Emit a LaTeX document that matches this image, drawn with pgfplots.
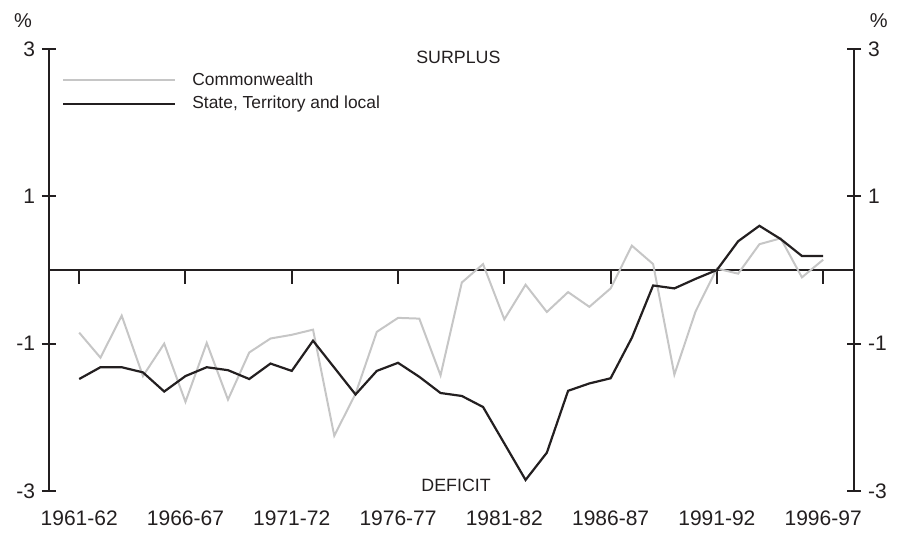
\documentclass[border=0pt]{standalone}
\usepackage{fontspec}
\setmainfont{Liberation Sans}
\usepackage{pgfplots}
\pgfplotsset{compat=1.18}
\definecolor{ink}{HTML}{231F20}
\definecolor{lgray}{HTML}{C6C6C6}
\begin{document}
\begin{tikzpicture}
\pgfplotsset{
  common/.style={
    scale only axis, width=402.5pt, height=221pt,
    xmin=-1.42, xmax=36.45, ymin=-3, ymax=3,
    ytick={-3,-1,1,3}, yticklabels={-3,-1,1,3},
    xtick={0,5,10,15,20,25,30,35},
    tick align=outside, major tick length=7pt,
    tick style={line width=1pt, color=ink},
    ticklabel style={font=\fontsize{10.5}{12}\selectfont, color=ink},
    clip=false,
  }
}
\begin{axis}[common,
  axis x line=middle, axis y line=left,
  axis line style={-},
  y axis line style={line width=1pt, color=ink},
  x axis line style={line width=0.7pt, color=ink},
  xticklabels={},
  xtick style={line width=1pt, color=ink, yshift=-3.3pt},
  legend style={at={(axis cs:-0.80,2.735)}, anchor=north west, draw=none, fill=none,
    inner sep=0pt, outer sep=0pt, column sep=6pt,
    font=\fontsize{8.7}{10}\selectfont, text=ink},
  legend cell align=left,
  legend image code/.code={\draw[#1] (0pt,0pt) -- (56pt,0pt);},
]
\addplot[lgray, line width=1pt] coordinates {
(0,-0.85) (1,-1.19) (2,-0.62) (3,-1.44) (4,-1.00) (5,-1.79) (6,-0.99) (7,-1.76)
(8,-1.12) (9,-0.93) (10,-0.88) (11,-0.81) (12,-2.25) (13,-1.68) (14,-0.84) (15,-0.65)
(16,-0.66) (17,-1.43) (18,-0.17) (19,0.08) (20,-0.67) (21,-0.20) (22,-0.57) (23,-0.30)
(24,-0.50) (25,-0.25) (26,0.33) (27,0.08) (28,-1.42) (29,-0.56) (30,0.02) (31,-0.05)
(32,0.35) (33,0.43) (34,-0.10) (35,0.14)};
\addlegendentry{Commonwealth}
\addplot[ink, line width=1.1pt] coordinates {
(0,-1.48) (1,-1.32) (2,-1.32) (3,-1.39) (4,-1.65) (5,-1.44) (6,-1.32) (7,-1.36)
(8,-1.48) (9,-1.27) (10,-1.37) (11,-0.96) (12,-1.325) (13,-1.69) (14,-1.37) (15,-1.26)
(16,-1.45) (17,-1.67) (18,-1.71) (19,-1.86) (20,-2.355) (21,-2.85) (22,-2.48) (23,-1.64)
(24,-1.54) (25,-1.47) (26,-0.92) (27,-0.21) (28,-0.25) (29,-0.12) (30,0.0) (31,0.39)
(32,0.60) (33,0.42) (34,0.19) (35,0.19)};
\addlegendentry{State, Territory and local}
\node[font=\fontsize{8.9}{10}\selectfont, text=ink] at (axis cs:17.84,2.89) {SURPLUS};
\node[font=\fontsize{8.9}{10}\selectfont, text=ink] at (axis cs:17.73,-2.93) {DEFICIT};
\node[font=\fontsize{10}{12}\selectfont, text=ink] at (axis cs:-2.64,3.39) {\%};
\node[font=\fontsize{10}{12}\selectfont, text=ink] at (axis cs:37.62,3.39) {\%};
\end{axis}
\begin{axis}[common,
  axis x line=bottom, axis y line=right,
  axis line style={-},
  x axis line style={draw=none},
  y axis line style={line width=1pt, color=ink},
  xtick style={draw=none},
  xticklabel style={yshift=-3pt},
  xticklabels={1961-62,1966-67,1971-72,1976-77,1981-82,1986-87,1991-92,1996-97},
]
\end{axis}
\pgfresetboundingbox
\path[use as bounding box] (-24.5pt,-21.5pt) rectangle (426.5pt,245.5pt);
\end{tikzpicture}
\end{document}
